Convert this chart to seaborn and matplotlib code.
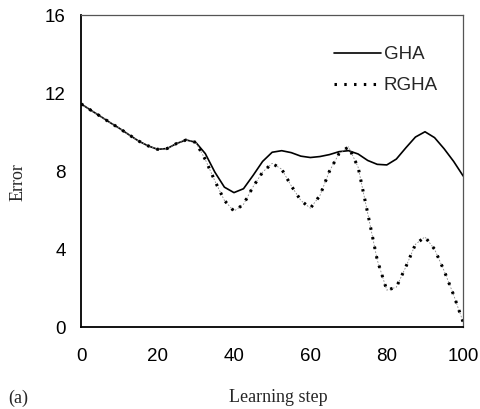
import matplotlib
matplotlib.use("Agg")
import matplotlib.pyplot as plt
import seaborn as sns
import pandas as pd

steps = [0, 2.5, 5, 7.5, 10, 12.5, 15, 17.5, 20, 22.5, 25, 27.5, 30, 32.5, 35, 37.5,
         40, 42.5, 45, 47.5, 50, 52.5, 55, 57.5, 60, 62.5, 65, 67.5, 70, 72.5, 75,
         77.5, 80, 82.5, 85, 87.5, 90, 92.5, 95, 97.5, 100]
gha = [11.45, 11.13, 10.82, 10.5, 10.2, 9.87, 9.55, 9.3, 9.12, 9.16, 9.42, 9.6, 9.48,
       8.9, 7.95, 7.18, 6.9, 7.1, 7.78, 8.5, 8.97, 9.05, 8.95, 8.77, 8.7, 8.75, 8.85,
       9.0, 9.05, 8.88, 8.55, 8.35, 8.32, 8.62, 9.2, 9.75, 10.02, 9.72, 9.15, 8.5, 7.75]
rgha = [11.45, 11.13, 10.82, 10.5, 10.2, 9.87, 9.55, 9.3, 9.12, 9.16, 9.42, 9.6, 9.48,
        8.6, 7.5, 6.5, 5.95, 6.3, 7.2, 7.95, 8.4, 8.1, 7.25, 6.5, 6.1, 6.75, 8.0,
        8.9, 9.25, 8.2, 5.85, 3.45, 1.9, 2.05, 3.1, 4.25, 4.63, 4.0, 2.9, 1.65, 0.25]
series_names = ["GHA", "RGHA"]
x_ticks = [0, 20, 40, 60, 80, 100]
y_ticks = [0, 4, 8, 12, 16]

df_g = pd.DataFrame({"step": steps, "error": gha})
df_r = pd.DataFrame({"step": steps, "error": rgha})

sns.set_style("white")
plt.rcParams["font.family"] = ["Liberation Sans", "DejaVu Sans"]

fig = plt.figure(figsize=(4.8, 4.09), dpi=100)
ax = fig.add_axes([0.169, 0.200, 0.796, 0.763])

sns.lineplot(data=df_g, x="step", y="error", ax=ax, color="black", linewidth=1.2,
             label=series_names[0])
# thin gray underlay for RGHA
sns.lineplot(data=df_r, x="step", y="error", ax=ax, color="#888888", linewidth=0.6,
             linestyle=(0, (2, 2)), legend=False)
sns.lineplot(data=df_r, x="step", y="error", ax=ax, color="black", linewidth=2.2,
             linestyle=(0, (0.8, 2.4)), label=series_names[1])

ax.set_xlim(0, 100)
ax.set_ylim(0, 16)
ax.set_xticks(x_ticks)
ax.set_yticks(y_ticks)
ax.tick_params(axis="both", direction="in", length=4, width=1, color="black",
               labelsize=13.5, labelcolor="black")
ax.tick_params(axis="x", pad=15)
ax.tick_params(axis="y", pad=11)
ax.tick_params(top=False, right=False)

for s in ["left", "bottom"]:
    ax.spines[s].set_color("black")
    ax.spines[s].set_linewidth(1.3)
for s in ["top", "right"]:
    ax.spines[s].set_color("#555555")
    ax.spines[s].set_linewidth(0.9)

ax.set_xlabel("")
ax.set_ylabel("")
fig.text(0.038, 0.555, "Error", rotation=90, ha="center", va="center",
         family="Liberation Serif", fontsize=13)
fig.text(0.58, 0.027, "Learning step", ha="center", va="center",
         family="Liberation Serif", fontsize=13)
fig.text(0.017, 0.027, "(a)", ha="left", va="center",
         family="Liberation Serif", fontsize=13)

leg = ax.legend(loc="upper left", bbox_to_anchor=(0.662, 0.9), frameon=False,
                borderaxespad=0, borderpad=0, handlelength=2.5, handletextpad=0.15,
                labelspacing=0.72, fontsize=13.5)

fig.savefig("out.png", dpi=100)
